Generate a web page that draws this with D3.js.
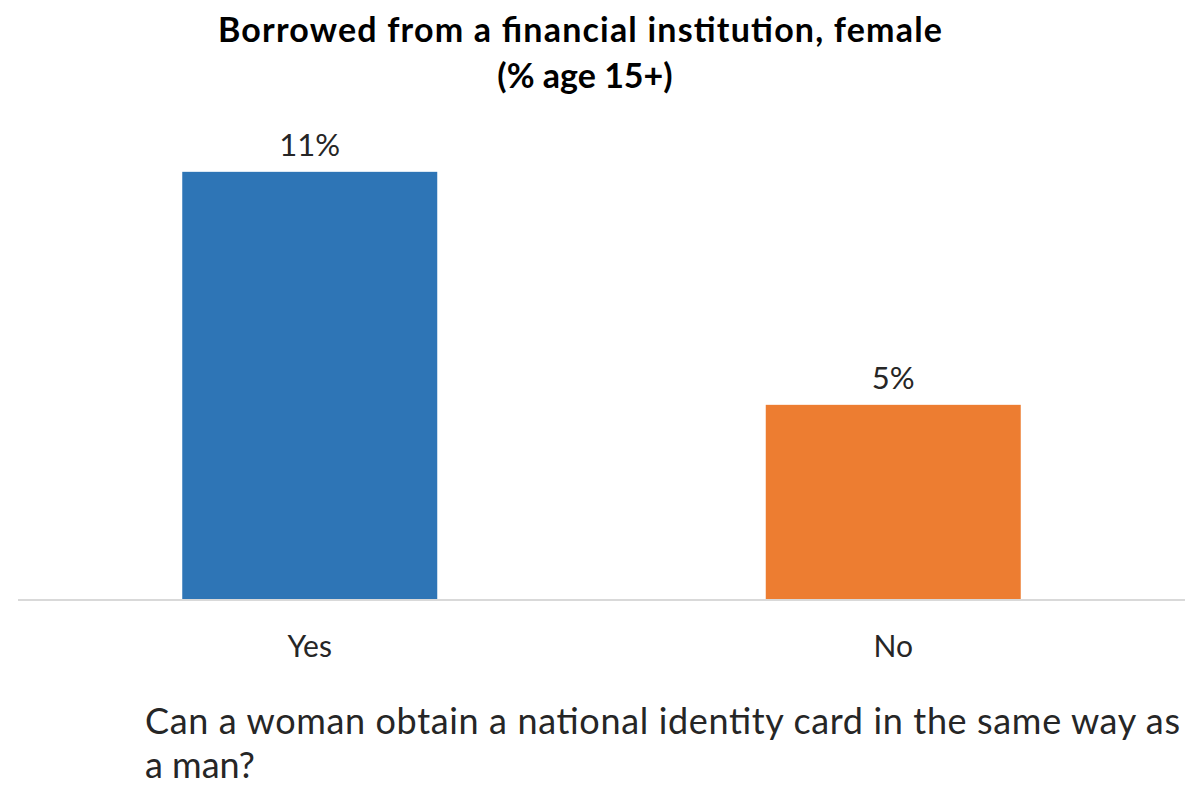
<html>
<head>
<meta charset="utf-8">
<script src="https://cdnjs.cloudflare.com/ajax/libs/d3/7.8.5/d3.min.js"></script>
<style>
  body { margin: 0; background: #fff; }
  text { font-family: Lato, "Open Sans", sans-serif; }
</style>
</head>
<body>
<div id="chart"></div>
<script>
  var categories = ["Yes", "No"];
  var values = [11, 5];
  var colors = ["#2e75b6", "#ed7d31"];
  var titleLines = ["Borrowed from a financial institution, female", "(% age 15+)"];
  var captionLines = ["Can a woman obtain a national identity card in the same way as", "a man?"];

  var W = 1187, H = 785;
  var svg = d3.select("#chart").append("svg").attr("width", W).attr("height", H);

  // plot area
  var left = 18, right = 1185, base = 599;
  var x = d3.scaleBand().domain(categories).range([left, right]).padding(0);
  var y = d3.scaleLinear().domain([0, 12]).range([base, 133]);
  var barW = x.bandwidth() * 0.437;

  svg.selectAll("rect.bar")
    .data(values)
    .enter()
    .append("rect")
      .attr("class", "bar")
      .attr("x", function (d, i) { return x(categories[i]) + x.bandwidth() / 2 - barW / 2; })
      .attr("y", function (d) { return y(d); })
      .attr("width", barW)
      .attr("height", function (d) { return base - y(d); })
      .attr("fill", function (d, i) { return colors[i]; });

  // baseline
  svg.append("line")
    .attr("x1", left).attr("x2", right)
    .attr("y1", base + 1).attr("y2", base + 1)
    .attr("stroke", "#d9d9d9").attr("stroke-width", 2);

  // value labels
  svg.selectAll("text.val")
    .data(values)
    .enter()
    .append("text")
      .attr("class", "val")
      .attr("x", function (d, i) { return x(categories[i]) + x.bandwidth() / 2; })
      .attr("y", function (d) { return y(d) - 16; })
      .attr("text-anchor", "middle")
      .style("font-size", "31px")
      .style("fill", "#262626")
      .text(function (d) { return d + "%"; });

  // category labels
  svg.selectAll("text.cat")
    .data(categories)
    .enter()
    .append("text")
      .attr("class", "cat")
      .attr("x", function (d) { return x(d) + x.bandwidth() / 2; })
      .attr("y", 657)
      .attr("text-anchor", "middle")
      .style("font-size", "30px")
      .style("fill", "#262626")
      .text(function (d) { return d; });

  // title
  svg.selectAll("text.title")
    .data(titleLines)
    .enter()
    .append("text")
      .attr("class", "title")
      .attr("x", function (d, i) { return i === 0 ? 580 : 585; })
      .attr("y", function (d, i) { return 42 + i * 46; })
      .attr("text-anchor", "middle")
      .attr("textLength", function (d, i) { return i === 0 ? 724 : null; })
      .attr("lengthAdjust", "spacing")
      .style("font-size", "34px")
      .style("font-weight", "bold")
      .style("fill", "#000")
      .text(function (d) { return d; });

  // caption below the axis
  svg.selectAll("text.caption")
    .data(captionLines)
    .enter()
    .append("text")
      .attr("class", "caption")
      .attr("x", 145)
      .attr("y", function (d, i) { return 734 + i * 44; })
      .attr("textLength", function (d, i) { return i === 0 ? 1035 : null; })
      .attr("lengthAdjust", "spacing")
      .style("font-size", "36px")
      .style("fill", "#262626")
      .text(function (d) { return d; });
</script>
</body>
</html>
